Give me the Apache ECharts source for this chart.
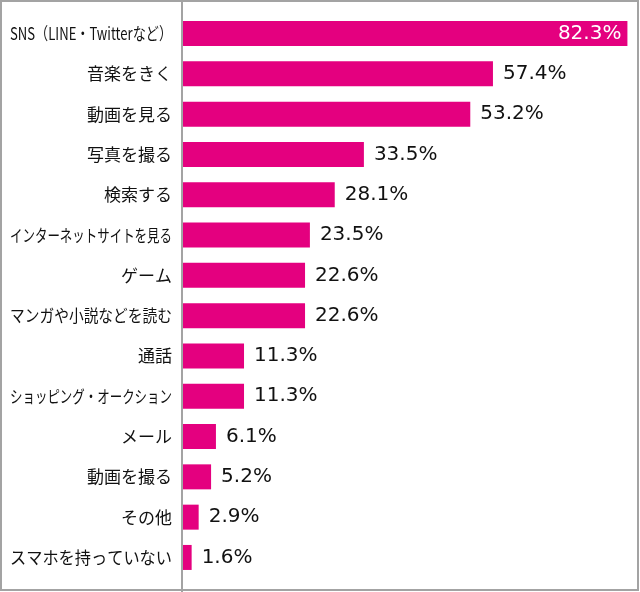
<!DOCTYPE html>
<html>
<head>
<meta charset="utf-8">
<script src="https://cdn.jsdelivr.net/npm/echarts@6/dist/echarts.min.js"></script>
<style>html,body{margin:0;padding:0;background:#fff;}#c{width:640px;height:592px;}</style>
</head>
<body>
<div id="c"></div>
<script>
const categories = ["SNS（LINE・Twitterなど）","音楽をきく","動画を見る","写真を撮る","検索する","インターネットサイトを見る","ゲーム","マンガや小説などを読む","通話","ショッピング・オークション","メール","動画を撮る","その他","スマホを持っていない"];
const values = [82.3,57.4,53.2,33.5,28.1,23.5,22.6,22.6,11.3,11.3,6.1,5.2,2.9,1.6];

const CJK = '"Noto Sans CJK JP", sans-serif';
const baseSize = 17, maxW = 162;
const ctx = document.createElement('canvas').getContext('2d');
ctx.font = baseSize + 'px ' + CJK;
const scales = categories.map(c => {
  const w = ctx.measureText(c).width;
  return w > maxW ? maxW / w : 1;
});

const chart = echarts.init(document.getElementById('c'), null, {renderer: 'canvas'});
const pxPer = 5.40, xMax = 84, left = 183;
chart.setOption({
  animation: false,
  backgroundColor: '#fff',
  grid: { left: left, right: 640 - left - xMax * pxPer, top: 13.4, bottom: 14.4, containLabel: false },
  xAxis: { type: 'value', min: 0, max: xMax, show: false },
  yAxis: {
    type: 'category', data: categories, inverse: true,
    axisLine: { show: false }, axisTick: { show: false },
    axisLabel: { show: false }
  },
  series: [{
    type: 'bar',
    barWidth: 25,
    itemStyle: { color: '#e4007f' },
    label: {
      show: true, position: 'right', distance: 10,
      fontFamily: '"DejaVu Sans", sans-serif', fontSize: 20, color: '#111',
      formatter: p => p.value.toFixed(1) + '%'
    },
    data: values.map((v, i) => i === 0 ? { value: v, label: { position: 'insideRight', distance: 6, color: '#fff' } } : v)
  }, {
    type: 'custom',
    silent: true,
    clip: false,
    data: categories.map((c, i) => [0, i]),
    renderItem: (params, api) => {
      const i = params.dataIndex;
      const pt = api.coord([0, api.value(1)]);
      return {
        type: 'text',
        x: pt[0] - 11,
        y: pt[1],
        scaleX: scales[i],
        style: {
          text: categories[i],
          align: 'right', verticalAlign: 'middle',
          font: baseSize + 'px ' + CJK,
          fill: '#111'
        }
      };
    }
  }],
  graphic: [
    { type: 'rect', shape: { x: 1, y: 1, width: 637, height: 589 }, style: { fill: 'none', stroke: '#a3a3a3', lineWidth: 2 }, silent: true },
    { type: 'line', shape: { x1: 182, y1: 0, x2: 182, y2: 592 }, style: { stroke: '#a3a3a3', lineWidth: 2 }, silent: true }
  ]
});
</script>
</body>
</html>
